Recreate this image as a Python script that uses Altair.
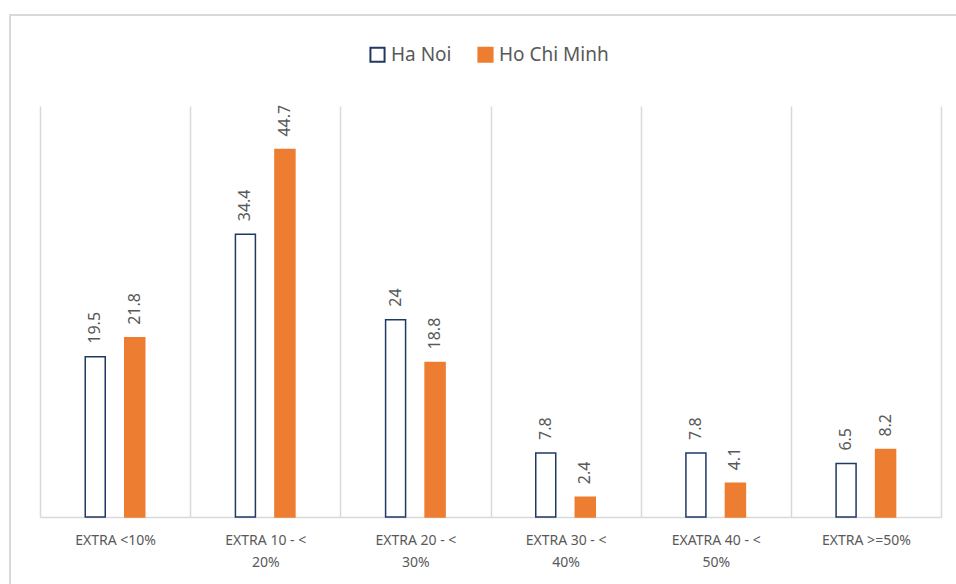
import altair as alt
import pandas as pd

categories = ["EXTRA <10%", "EXTRA 10 - < 20%", "EXTRA 20 - < 30%",
              "EXTRA 30 - < 40%", "EXATRA 40 - < 50%", "EXTRA >=50%"]
series = ["Ha Noi", "Ho Chi Minh"]
ha_noi = [19.5, 34.4, 24, 7.8, 7.8, 6.5]
ho_chi_minh = [21.8, 44.7, 18.8, 2.4, 4.1, 8.2]

rows = []
for c, a, b in zip(categories, ha_noi, ho_chi_minh):
    rows.append({"cat": c, "city": series[0], "v": a})
    rows.append({"cat": c, "city": series[1], "v": b})
df = pd.DataFrame(rows)

FONT = "Noto Sans"
GRAY = "#595959"

label_expr = ("indexof(datum.label, '< ') >= 0 ? "
              "[slice(datum.label, 0, indexof(datum.label, '< ') + 1), "
              "slice(datum.label, indexof(datum.label, '< ') + 2)] : datum.label")

x = alt.X("cat:N", sort=categories, title=None,
          scale=alt.Scale(paddingInner=0, paddingOuter=0),
          axis=alt.Axis(labelAngle=0, labelExpr=label_expr, labelFont=FONT,
                        labelFontSize=14, labelColor=GRAY, labelPadding=16,
                        labelLimit=200, ticks=False, grid=True, tickBand="extent",
                        gridColor="#D9D9D9", gridWidth=1.5, domainColor="#D9D9D9",
                        domainWidth=1.5, labelLineHeight=22))
xo = alt.XOffset("city:N", sort=series,
                 scale=alt.Scale(range=[45.25, 104.75], paddingInner=0.494,
                                 paddingOuter=0))
y = alt.Y("v:Q", scale=alt.Scale(domain=[0, 50]), axis=None)

bars = alt.Chart(df).mark_bar(strokeWidth=1.5).encode(
    x=x, xOffset=xo, y=y,
    fill=alt.Fill("city:N", sort=series,
                  scale=alt.Scale(domain=series, range=["#FFFFFF", "#ED7D31"]),
                  legend=alt.Legend(title=None, orient="none", direction="horizontal",
                                    legendX=328, legendY=-61, symbolType="square",
                                    symbolSize=200, symbolStrokeWidth=2,
                                    labelFont=FONT, labelFontSize=19,
                                    labelColor=GRAY, columnPadding=22,
                                    labelOffset=4)),
    stroke=alt.Stroke("city:N", sort=series,
                      scale=alt.Scale(domain=series, range=["#203864", "#ED7D31"]),
                      legend=None),
)

text = alt.Chart(df).mark_text(angle=270, align="left", baseline="middle", dx=13,
                               font=FONT, fontSize=16, color=GRAY).encode(
    x=x, xOffset=xo, y=y, text=alt.Text("v:Q")
)

frame = alt.Chart(df).mark_rect(fill=None, stroke="#D9D9D9", strokeWidth=1.5,
                                clip=False).encode(
    x=alt.value(-30), x2=alt.value(1000), y=alt.value(-91), y2=alt.value(600)
)

chart = alt.layer(frame, bars, text).properties(
    width=901, height=411,
    padding={"left": 40, "top": 106, "right": 15, "bottom": 67},
    autosize=alt.AutoSizeParams(type="none"),
    background="white",
).configure_view(stroke=None)

chart.save("out.html", embed_options={"renderer": "svg", "actions": False})
